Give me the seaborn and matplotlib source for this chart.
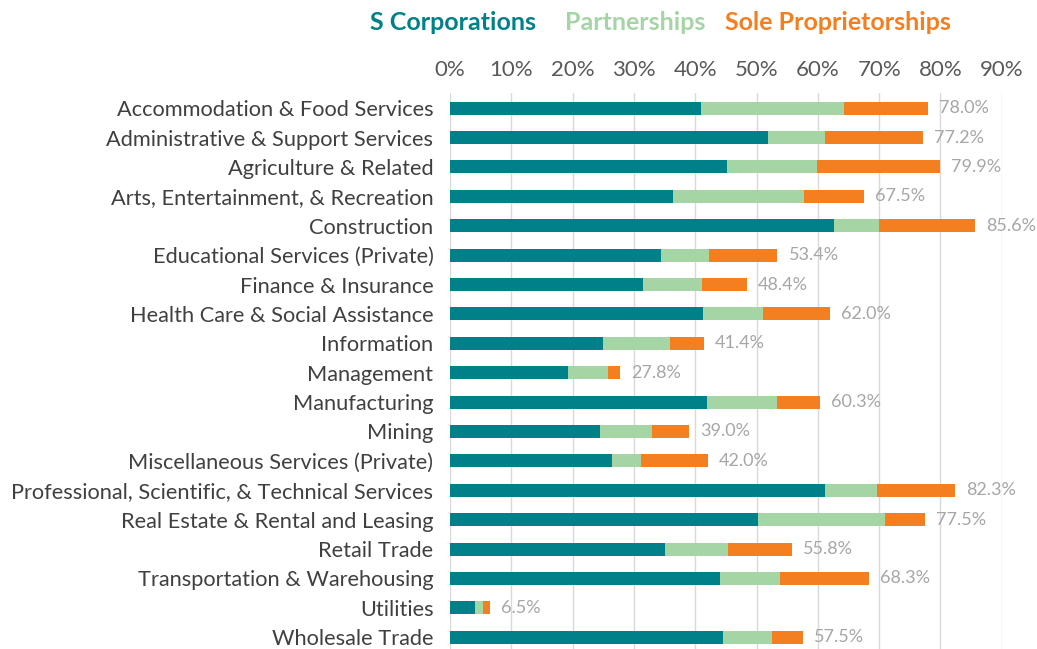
import pandas as pd
import matplotlib
matplotlib.use("Agg")
import matplotlib.pyplot as plt
import seaborn as sns

# Industries and shares of each business type (%)
industries = [
    "Accommodation & Food Services",
    "Administrative & Support Services",
    "Agriculture & Related",
    "Arts, Entertainment, & Recreation",
    "Construction",
    "Educational Services (Private)",
    "Finance & Insurance",
    "Health Care & Social Assistance",
    "Information",
    "Management",
    "Manufacturing",
    "Mining",
    "Miscellaneous Services (Private)",
    "Professional, Scientific, & Technical Services",
    "Real Estate & Rental and Leasing",
    "Retail Trade",
    "Transportation & Warehousing",
    "Utilities",
    "Wholesale Trade",
]
s_corps = [41.0, 51.8, 45.2, 36.3, 62.7, 34.4, 31.4, 41.2, 25.0, 19.3,
           41.9, 24.4, 26.4, 61.1, 50.3, 35.0, 44.0, 4.0, 44.6]
partnerships = [23.2, 9.3, 14.6, 21.5, 7.2, 7.8, 9.7, 9.8, 10.8, 6.4,
                11.4, 8.5, 4.7, 8.6, 20.6, 10.4, 9.8, 1.3, 7.9]
sole_props = [13.8, 16.1, 20.1, 9.7, 15.7, 11.2, 7.3, 11.0, 5.6, 2.1,
              7.0, 6.1, 10.9, 12.6, 6.6, 10.4, 14.5, 1.2, 5.0]

df = pd.DataFrame({
    "Industry": industries,
    "S Corporations": s_corps,
    "Partnerships": partnerships,
    "Sole Proprietorships": sole_props,
})
# cumulative ends for stacking
df["cum_s"] = df["S Corporations"]
df["cum_p"] = df["cum_s"] + df["Partnerships"]
df["total"] = df["cum_p"] + df["Sole Proprietorships"]

teal = "#00818A"
green = "#A6D5A5"
orange = "#F47F20"

sns.set_theme(style="white")
plt.rcParams["font.family"] = ["Lato", "DejaVu Sans"]

fig = plt.figure(figsize=(10.37, 6.49), dpi=100)
ax = fig.add_axes([0.434, 0.0, 0.532, 0.856])

bar_h = 0.44
for col, c in [("total", orange), ("cum_p", green), ("cum_s", teal)]:
    sns.barplot(data=df, y="Industry", x=col, color=c, width=bar_h,
                saturation=1, orient="h", linewidth=0, ax=ax, zorder=3)

for i, t in enumerate(df["total"]):
    ax.annotate(f"{t:.1f}%", xy=(t, i), xytext=(8, 0), textcoords="offset points",
                va="center", ha="left", fontsize=13, color="#A6A6A6", zorder=4)

ax.set_xlim(0, 90)
ax.set_ylim(18.4, -0.5)
ax.set_xticks(range(0, 91, 10))
ax.set_xticklabels([f"{v}%" for v in range(0, 91, 10)])
ax.xaxis.tick_top()
ax.tick_params(axis="x", length=0, pad=10, labelsize=16, labelcolor="#595959")
ax.tick_params(axis="y", length=0, pad=12, labelsize=15.7, labelcolor="#404040")
ax.set_xlabel("")
ax.set_ylabel("")
ax.grid(axis="x", color="#D9D9D9", linewidth=1, zorder=0)
ax.grid(axis="y", visible=False)
ax.set_axisbelow(True)
for sp in ax.spines.values():
    sp.set_visible(False)

# colored text legend
fig.text(0.357, 0.965, "S Corporations", color=teal, fontsize=18,
         fontweight="bold", ha="left", va="center")
fig.text(0.545, 0.965, "Partnerships", color=green, fontsize=18,
         fontweight="bold", ha="left", va="center")
fig.text(0.699, 0.965, "Sole Proprietorships", color=orange, fontsize=18,
         fontweight="bold", ha="left", va="center")

fig.savefig("out.png", dpi=100)
